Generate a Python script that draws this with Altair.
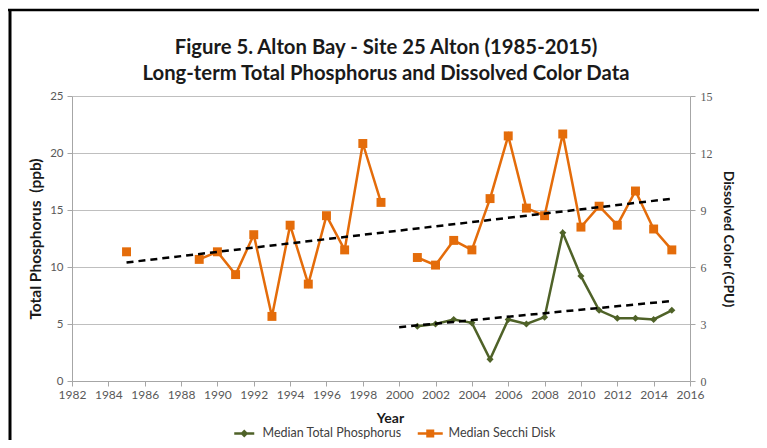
import altair as alt
import pandas as pd

TITLE_LINES = ["Figure 5. Alton Bay - Site 25 Alton (1985-2015)",
               "Long-term Total Phosphorus and Dissolved Color Data"]
SERIES = ["Median Total Phosphorus", "Median Secchi Disk"]

tp_years = [2001, 2002, 2003, 2004, 2005, 2006, 2007, 2008, 2009, 2010, 2011, 2012, 2013, 2014, 2015]
tp_values = [4.8, 5.0, 5.4, 5.1, 1.9, 5.4, 5.0, 5.6, 13.0, 9.2, 6.2, 5.5, 5.5, 5.4, 6.2]

color_years = [1985, 1986, 1987, 1988, 1989, 1990, 1991, 1992, 1993, 1994, 1995, 1996, 1997, 1998,
               1999, 2000, 2001, 2002, 2003, 2004, 2005, 2006, 2007, 2008, 2009, 2010, 2011, 2012,
               2013, 2014, 2015]
color_values = [6.8, None, None, None, 6.4, 6.8, 5.6, 7.7, 3.4, 8.2, 5.1, 8.7, 6.9, 12.5,
                9.4, None, 6.5, 6.1, 7.4, 6.9, 9.6, 12.9, 9.1, 8.7, 13.0, 8.1, 9.2, 8.2,
                10.0, 8.0, 6.9]

tp_trend_extent = [2000, 2015]

x_ticks = [1982, 1984, 1986, 1988, 1990, 1992, 1994, 1996, 1998, 2000, 2002, 2004, 2006,
           2008, 2010, 2012, 2014, 2016]
left_ticks = [0, 5, 10, 15, 20, 25]
right_ticks = [0, 3, 6, 9, 12, 15]

GREEN = "#4F6228"
ORANGE = "#E46C0A"
FONT = "Lato"

tp_df = pd.DataFrame({"year": tp_years, "tp": tp_values})
col_df = pd.DataFrame({"year": color_years, "color": color_values})
leg_df = pd.DataFrame({"series": SERIES})

x_enc = alt.X("year:Q",
              scale=alt.Scale(domain=[1982, 2016], nice=False, zero=False),
              axis=alt.Axis(values=x_ticks, format="d", title="Year", grid=False,
                            labelOverlap=False, labelFlush=False, labelFontSize=12,
                            titleX=318, titlePadding=11, labelPadding=3))

left_axis = alt.Axis(values=left_ticks, title="Total Phosphorus\u00a0 (ppb)", grid=True,
                     orient="left", labelPadding=4, titlePadding=6, labelFontSize=11.5,
                     titleFontSize=15.5)
left_scale = alt.Scale(domain=[0, 25], nice=False)
y_left = alt.Y("tp:Q", scale=left_scale, axis=left_axis)

right_axis = alt.Axis(values=right_ticks, title="Dissolved Color (CPU)", grid=False,
                      orient="right", labelFont="Liberation Serif", labelFontSize=12,
                      labelPadding=5, titlePadding=8)
right_scale = alt.Scale(domain=[0, 15], nice=False)
y_right = alt.Y("color:Q", scale=right_scale, axis=right_axis)

tp_base = alt.Chart(tp_df)
green_line = tp_base.mark_line(color=GREEN, strokeWidth=2.5).encode(x=x_enc, y=y_left)
green_pts = tp_base.mark_point(shape="diamond", filled=True, size=50, color=GREEN,
                               opacity=1).encode(x=x_enc, y=y_left)
green_trend = tp_base.transform_regression("year", "tp", extent=tp_trend_extent).mark_line(
    color="black", strokeDash=[7, 5], strokeWidth=2.5).encode(x=x_enc, y=y_left)

col_base = alt.Chart(col_df)
orange_line = col_base.mark_line(color=ORANGE, strokeWidth=2.5,
                                 invalid="break-paths-show-domains").encode(x=x_enc, y=y_right)
orange_pts = col_base.mark_point(shape="square", filled=True, size=80, color=ORANGE,
                                 opacity=1).encode(x=x_enc, y=y_right)
orange_trend = col_base.transform_filter("isValid(datum.color)").transform_regression(
    "year", "color").mark_line(color="black", strokeDash=[7, 5], strokeWidth=2.5).encode(
    x=x_enc, y=y_right)

left_group = alt.layer(green_line, green_pts, green_trend)
right_group = alt.layer(orange_line, orange_pts, orange_trend)

g_path = "M-2,-0.25L2,-0.25L2,0.25L-2,0.25Z M0,-0.8L0.8,0L0,0.8L-0.8,0Z"
o_path = "M-2.5,-0.25L2.5,-0.25L2.5,0.25L-2.5,0.25Z M-0.8,-0.8L0.8,-0.8L0.8,0.8L-0.8,0.8Z"

legend = alt.Legend(orient="none", legendX=166, legendY=331, direction="horizontal",
                    title=None, labelFont=FONT, labelFontSize=12.5, labelColor="#404040",
                    symbolSize=100, symbolStrokeWidth=0, labelOffset=12, columnPadding=15)
legend_layer = alt.Chart(leg_df).transform_filter("false").mark_point(
    filled=True, size=100, opacity=1).encode(
    color=alt.Color("series:N", scale=alt.Scale(domain=SERIES, range=[GREEN, ORANGE]),
                    legend=legend),
    shape=alt.Shape("series:N", scale=alt.Scale(domain=SERIES, range=[g_path, o_path]),
                    legend=legend),
)

frame_data = alt.Data(values=[{"k": 1}])
left_border = alt.Chart(frame_data).mark_rule(color="black", strokeWidth=3).encode(
    x=alt.value(-62), y=alt.value(-86), y2=alt.value(360))
top_border = alt.Chart(frame_data).mark_rule(color="black", strokeWidth=2.5).encode(
    x=alt.value(-64), x2=alt.value(700), y=alt.value(-86))

chart = alt.layer(left_group, right_group, legend_layer, left_border, top_border).resolve_scale(
    y="independent"
).properties(
    width=618,
    height=285,
    autosize=alt.AutoSizeParams(type="none"),
    padding={"left": 64, "top": 88, "right": 69, "bottom": 59},
    title=alt.TitleParams(TITLE_LINES, font=FONT, fontSize=20.3, fontWeight="bold",
                          color="#1A1A1A", anchor="middle", frame="group", offset=0,
                          lineHeight=26, dx=5, dy=76),
).configure_view(
    strokeOpacity=0
).configure_axis(
    labelFont=FONT, labelFontSize=11, labelColor="#595959",
    domainColor="#A6A6A6", tickColor="#A6A6A6", tickSize=5, domainWidth=1,
    titleFont=FONT, titleFontSize=14, titleFontWeight="bold", titleColor="#1A1A1A",
    gridColor="#BFBFBF", gridWidth=1,
)

chart.save("out.html", embed_options={"renderer": "svg", "actions": False})
